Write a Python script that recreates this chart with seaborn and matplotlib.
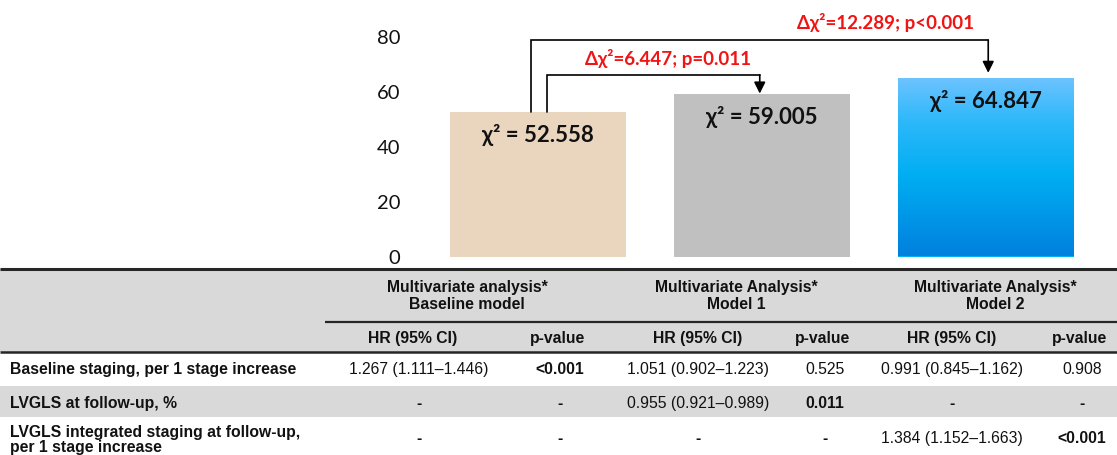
import numpy as np
import pandas as pd
import matplotlib
matplotlib.use("Agg")
import matplotlib.pyplot as plt
import seaborn as sns
from matplotlib.colors import LinearSegmentedColormap

# ---------------- data ----------------
models = ["Baseline model", "Model 1", "Model 2"]
chi2 = [52.558, 59.005, 64.847]
bar_colors = ["#EAD6BE", "#C0C0C0", "#00B0F0"]
y_ticks = [0, 20, 40, 60, 80]

# comparisons: (from bar, to bar, delta chi2, p text)
cmp_from = [0, 0]
cmp_to = [1, 2]
delta_chi2 = ["6.447", "12.289"]
delta_p = ["p=0.011", "p<0.001"]

group_headers = ["Multivariate analysis*\nBaseline model",
                 "Multivariate Analysis*\nModel 1",
                 "Multivariate Analysis*\nModel 2"]
sub_headers = ["HR (95% CI)", "p-value"]
row_labels = ["Baseline staging, per 1 stage increase",
              "LVGLS at follow-up, %",
              "LVGLS integrated staging at follow-up,\nper 1 stage increase"]
hr_values = [["1.267 (1.111\u20131.446)", "1.051 (0.902\u20131.223)", "0.991 (0.845\u20131.162)"],
             ["-", "0.955 (0.921\u20130.989)", "-"],
             ["-", "-", "1.384 (1.152\u20131.663)"]]
p_values = [["<0.001", "0.525", "0.908"],
            ["-", "0.011", "-"],
            ["-", "-", "<0.001"]]
p_bold = [[True, False, False],
          [False, True, False],
          [False, False, True]]

# ---------------- figure ----------------
sns.set_theme(style="white")
plt.rcParams["font.family"] = ["Lato", "DejaVu Sans"]
W, H = 1117, 455
fig = plt.figure(figsize=(W / 100, H / 100), dpi=100)

# table layer (pixel coordinates)
tab = fig.add_axes([0, 0, 1, 1])
tab.set_xlim(0, W)
tab.set_ylim(H, 0)
tab.axis("off")

# chart axes
ymin, ymax = 0, 90
xl, xr = -0.57, 2.5
left_px, right_px = 410.3, 1098.0
zero_px = 256.5
px_per_unit = 2.7475
top_px = zero_px - (ymax - ymin) * px_per_unit
ax = fig.add_axes([left_px / W, (H - zero_px) / H,
                   (right_px - left_px) / W, (zero_px - top_px) / H])

df = pd.DataFrame({"model": models, "chi2": chi2})
sns.barplot(data=df, x="model", y="chi2", hue="model", palette=bar_colors,
            legend=False, width=0.785, ax=ax, saturation=1, edgecolor="none")
ax.set_xlim(xl, xr)
ax.set_ylim(ymin, ymax)
ax.set_yticks(y_ticks)
ax.set_yticklabels([str(t) for t in y_ticks], fontsize=14.5, color="#111111")
ax.set_xticks([])
ax.set_xlabel("")
ax.set_ylabel("")
ax.tick_params(axis="y", length=0, pad=7)
for s in ax.spines.values():
    s.set_visible(False)
ax.patch.set_alpha(0)

# gradient for the third bar
p3 = ax.patches[2]
x0, y0, w, h = p3.get_x(), p3.get_y(), p3.get_width(), p3.get_height()
cmap = LinearSegmentedColormap.from_list(
    "blue", [(0.0, "#0080DE"), (0.45, "#00AEF2"), (0.75, "#2CB8FA"), (1.0, "#6EC3FF")])
grad = np.linspace(0, 1, 256).reshape(-1, 1)
im = ax.imshow(grad, extent=[x0, x0 + w, y0, y0 + h], origin="lower",
               aspect="auto", cmap=cmap, zorder=p3.get_zorder() + 0.1)
im.set_clip_path(p3)
ax.set_xlim(xl, xr)
ax.set_ylim(ymin, ymax)

# bar value labels
for i, v in enumerate(chi2):
    ax.annotate(f"\u03c7\u00b2 = {v:.3f}", xy=(i, v), xytext=(0, -16.5),
                textcoords="offset points", ha="center", va="center",
                fontsize=16, fontweight="bold", color="#111111", zorder=5)

# comparison brackets
levels = [66.1, 78.8]
start_dx = [0.04, -0.03]
end_dx = [-0.01, 0.01]
gaps = [0.3, 2.0]
text_x = [0.58, 1.55]
text_dy = [6.1, 6.5]
for k in range(len(cmp_from)):
    a, b = cmp_from[k], cmp_to[k]
    xs = a + start_dx[k]
    xe = b + end_dx[k]
    lev = levels[k]
    ax.plot([xs, xs, xe], [chi2[a], lev, lev], color="black", lw=1.2,
            solid_joinstyle="miter", clip_on=False, zorder=4)
    ax.annotate("", xy=(xe, chi2[b] + gaps[k]), xytext=(xe, lev),
                arrowprops=dict(arrowstyle="-|>", color="black", lw=1.2,
                                mutation_scale=17, shrinkA=0, shrinkB=0),
                annotation_clip=False, zorder=4)
    ax.text(text_x[k], lev + text_dy[k],
            f"\u0394\u03c7\u00b2={delta_chi2[k]}; {delta_p[k]}",
            ha="center", va="center", fontsize=13.5, fontweight="bold",
            color="#F01414", clip_on=False, zorder=5)

# ---------------- table ----------------
tfont = ["Liberation Sans", "DejaVu Sans"]
fs = 11.3
gray = "#D9D9D9"
line_c = "#262626"
txt_c = "#111111"

tab.add_patch(plt.Rectangle((0, 269), W, 352 - 269, color=gray, lw=0, zorder=0))
tab.add_patch(plt.Rectangle((0, 385.5), W, 417 - 385.5, color=gray, lw=0, zorder=0))
tab.plot([0, W], [269, 269], color=line_c, lw=2.2, solid_capstyle="butt", zorder=2)
tab.plot([325, W], [321.7, 321.7], color=line_c, lw=1.6, solid_capstyle="butt", zorder=2)
tab.plot([0, W], [351.5, 351.5], color=line_c, lw=1.8, solid_capstyle="butt", zorder=2)

group_x = [467, 736, 995]
hr_x = [419, 698, 952]
p_x = [560, 825, 1082]
for g in range(3):
    tab.text(group_x[g], 296, group_headers[g], ha="center", va="center",
             fontsize=fs, fontweight="bold", family=tfont, linespacing=1.15,
             color=txt_c)
    tab.text(hr_x[g] - (6 if g == 0 else 0), 339, sub_headers[0], ha="center",
             va="center", fontsize=fs, fontweight="bold", family=tfont, color=txt_c)
    tab.text(p_x[g] - 2, 339, sub_headers[1], ha="center", va="center",
             fontsize=fs, fontweight="bold", family=tfont, color=txt_c)

row_y = [369.3, 403.3, 440]
for r in range(3):
    tab.text(10, row_y[r], row_labels[r], ha="left", va="center", fontsize=fs,
             fontweight="bold", family=tfont, linespacing=1.05, color=txt_c)
    for g in range(3):
        tab.text(hr_x[g], row_y[r] - (1.5 if r == 2 else 0), hr_values[r][g],
                 ha="center", va="center", fontsize=fs, family=tfont,
                 fontweight="bold" if hr_values[r][g] == "-" else "normal",
                 color=txt_c)
        tab.text(p_x[g], row_y[r] - (1.5 if r == 2 else 0), p_values[r][g],
                 ha="center", va="center", fontsize=fs, family=tfont,
                 fontweight="bold" if (p_bold[r][g] or p_values[r][g] == "-") else "normal",
                 color=txt_c)

fig.savefig("out.png", dpi=100)
